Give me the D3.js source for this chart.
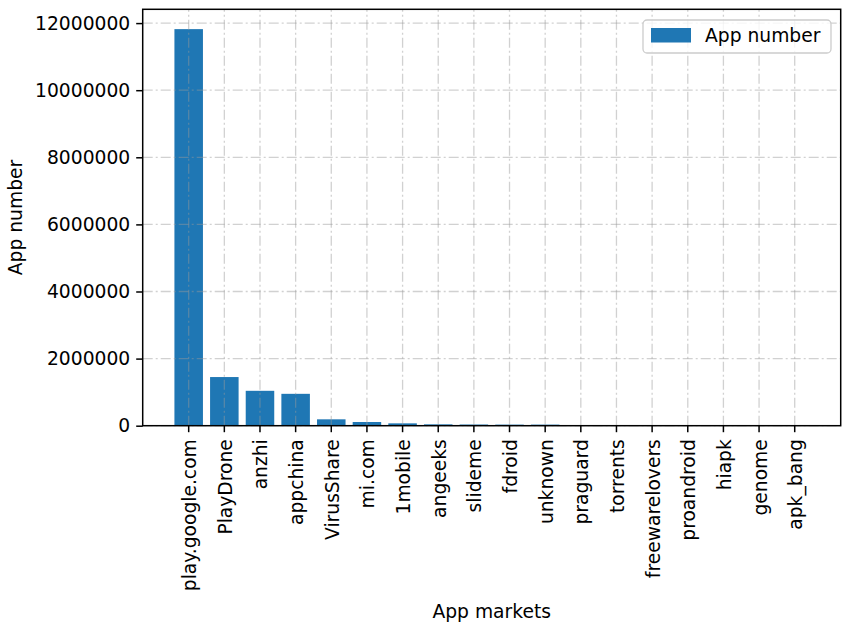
<!doctype html>
<html>
<head>
  <meta charset="utf-8">
  <title>App markets</title>
  <style>
    html, body { margin: 0; padding: 0; background: #fff; }
    svg { display: block; font-family: "DejaVu Sans", sans-serif; }
  </style>
</head>
<body>
  <div id="chart"></div>

  <script src="https://d3js.org/d3.v7.min.js"></script>
  <script>

    // ..... Data .....
    var markets = ["play.google.com", "PlayDrone", "anzhi", "appchina", "VirusShare", "mi.com",
                   "1mobile", "angeeks", "slideme", "fdroid", "unknown", "praguard", "torrents",
                   "freewarelovers", "proandroid", "hiapk", "genome", "apk_bang"];
    var appCounts = [11820000, 1450000, 1040000, 950000, 190000, 110000,
                     70000, 40000, 35000, 32000, 32000, 10000, 5000,
                     4000, 3000, 2000, 1300, 1000];
    var yTicks = [0, 2000000, 4000000, 6000000, 8000000, 10000000, 12000000];
    var seriesName = "App number";

    const width = 849, height = 629;
    const margin = { top: 9.3, right: 8.3, bottom: 203.3, left: 142.7 };
    const fs = 18.7;
    const blue = "#1f77b4";

    var svg = d3.select("#chart").append("svg")
        .attr("width", width)
        .attr("height", height);

    // ..... Scales .....
    var x = d3.scaleBand()
        .domain(markets)
        .range([margin.left, width - margin.right])
        .paddingInner(0.2)
        .paddingOuter(0.89);

    var y = d3.scaleLinear()
        .domain([0, d3.max(appCounts) * 1.05])
        .range([height - margin.bottom, margin.top]);

    var data = markets.map(function(m, i) { return { name: m, value: appCounts[i] }; });

    // Bars
    svg.append("g")
      .selectAll("rect")
      .data(data)
      .join("rect")
        .attr("x", d => x(d.name))
        .attr("y", d => y(d.value))
        .attr("width", x.bandwidth())
        .attr("height", d => y(0) - y(d.value))
        .style("fill", blue);

    // Grid (drawn above the bars, like matplotlib)
    var grid = svg.append("g")
        .style("stroke", "#999")
        .style("stroke-opacity", 0.45)
        .style("stroke-width", 1.3)
        .style("stroke-dasharray", "10,3,2,3");

    grid.selectAll(".gx")
      .data(markets)
      .join("line")
        .attr("x1", d => x(d) + x.bandwidth() / 2)
        .attr("x2", d => x(d) + x.bandwidth() / 2)
        .attr("y1", y.range()[0])
        .attr("y2", y.range()[1]);

    grid.selectAll(".gy")
      .data(yTicks)
      .join("line")
        .attr("x1", margin.left)
        .attr("x2", width - margin.right)
        .attr("y1", d => y(d))
        .attr("y2", d => y(d));

    // ..... Axes .....
    var xAxis = svg.append("g")
        .attr("transform", "translate(0," + y(0) + ")")
        .call(d3.axisBottom(x).tickSize(6.5).tickPadding(4));

    xAxis.selectAll("text")
        .style("font-size", fs + "px")
        .style("fill", "#000")
        .attr("text-anchor", "end")
        .attr("dominant-baseline", "central")
        .attr("dy", null)
        .attr("transform", "rotate(-90)")
        .attr("x", -13.5)
        .attr("y", 1);

    var yAxis = svg.append("g")
        .attr("transform", "translate(" + margin.left + ",0)")
        .call(d3.axisLeft(y).tickValues(yTicks).tickFormat(d3.format("d")).tickSize(6.5).tickPadding(6));

    yAxis.selectAll("text")
        .style("font-size", fs + "px")
        .style("fill", "#000");

    [xAxis, yAxis].forEach(function(a) {
      a.select(".domain").remove();
      a.selectAll(".tick line").style("stroke", "#000").style("stroke-width", 1.5);
      a.attr("font-family", null);
    });

    // Frame
    svg.append("rect")
        .attr("x", margin.left)
        .attr("y", margin.top)
        .attr("width", width - margin.left - margin.right)
        .attr("height", height - margin.top - margin.bottom)
        .style("fill", "none")
        .style("stroke", "#000")
        .style("stroke-width", 1.5);

    // Axis titles
    svg.append("text")
        .attr("x", (margin.left + width - margin.right) / 2)
        .attr("y", 618)
        .attr("text-anchor", "middle")
        .style("font-size", fs + "px")
        .text("App markets");

    svg.append("text")
        .attr("transform", "translate(22," + (margin.top + height - margin.bottom) / 2 + ") rotate(-90)")
        .attr("text-anchor", "middle")
        .style("font-size", fs + "px")
        .text("App number");

    // Legend
    var legend = svg.append("g");
    legend.append("rect")
        .attr("x", 643)
        .attr("y", 20)
        .attr("width", 188)
        .attr("height", 33)
        .attr("rx", 4)
        .style("fill", "#fff")
        .style("fill-opacity", 0.8)
        .style("stroke", "#ccc")
        .style("stroke-width", 1.3);
    legend.append("rect")
        .attr("x", 651)
        .attr("y", 28)
        .attr("width", 40)
        .attr("height", 14.5)
        .style("fill", blue);
    legend.append("text")
        .attr("x", 705)
        .attr("y", 35.5)
        .attr("dominant-baseline", "central")
        .style("font-size", fs + "px")
        .text(seriesName);
  </script>
</body>
</html>
